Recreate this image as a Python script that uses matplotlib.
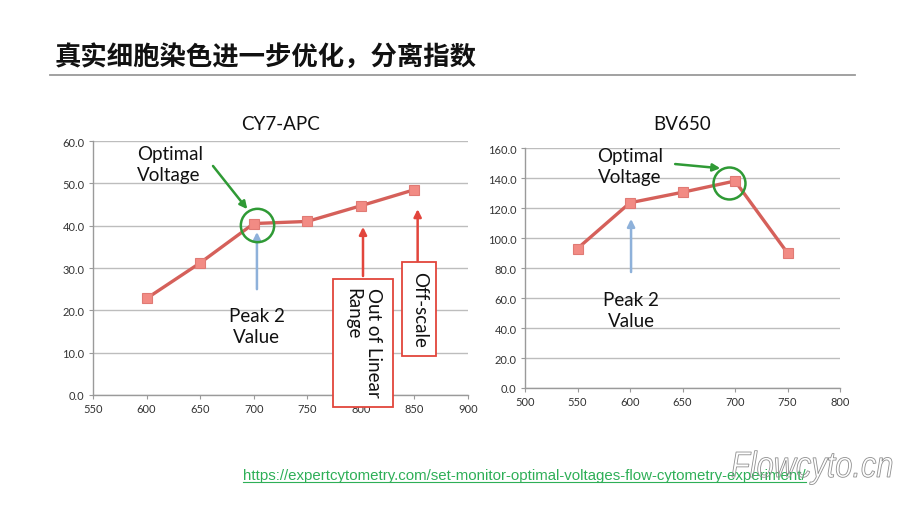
import matplotlib
matplotlib.use("Agg")
import matplotlib.pyplot as plt
from matplotlib.patches import Rectangle, PathPatch
from matplotlib.textpath import TextPath
from matplotlib.font_manager import FontProperties
from matplotlib.transforms import Affine2D, IdentityTransform

# ---- data ----
cy7_voltage = [600, 650, 700, 750, 800, 850]
cy7_values = [22.8, 31.2, 40.5, 41.0, 44.7, 48.5]
bv_voltage = [550, 600, 650, 700, 750]
bv_values = [93.0, 123.5, 130.5, 138.0, 90.0]
cy7_xticks = [550, 600, 650, 700, 750, 800, 850, 900]
cy7_yticks = [0, 10, 20, 30, 40, 50, 60]
bv_xticks = [500, 550, 600, 650, 700, 750, 800]
bv_yticks = [0, 20, 40, 60, 80, 100, 120, 140, 160]
title_text = "真实细胞染色进一步优化，分离指数"
url_text = "https://expertcytometry.com/set-monitor-optimal-voltages-flow-cytometry-experiment/"
watermark_text = "Flowcyto.cn"

LINE_C = "#d5605a"
MARK_F = "#f28b84"
GREEN = "#2f9a35"
BLUE = "#8eb1da"
RED = "#e2453c"
FONT = ["Lato", "DejaVu Sans"]
ANN = 13.5

fig = plt.figure(figsize=(9, 5.06), dpi=100)
fig.patch.set_facecolor("white")

# title + rule
fig.text(55/900, 1-58/506, title_text, fontsize=19, fontweight="bold",
         family=["Noto Sans CJK SC", "DejaVu Sans"], va="center", ha="left", color="#111111")
fig.add_artist(plt.Line2D([50/900, 855/900], [1-76/506, 1-76/506], color="#9a9a9a", lw=1.3))


def style_axes(ax, xticks, yticks):
    ax.set_xlim(xticks[0], xticks[-1])
    ax.set_ylim(yticks[0], yticks[-1])
    ax.set_xticks(xticks)
    ax.set_yticks(yticks)
    ax.set_xticklabels([str(v) for v in xticks])
    ax.set_yticklabels([f"{v:.1f}" for v in yticks])
    for s in ["top", "right"]:
        ax.spines[s].set_visible(False)
    for s in ["left", "bottom"]:
        ax.spines[s].set_color("#9a9a9a")
        ax.spines[s].set_linewidth(1.0)
    ax.grid(axis="y", color="#bdbdbd", lw=1.0)
    ax.set_axisbelow(True)
    ax.tick_params(axis="both", length=3, width=0.8, color="#9a9a9a",
                   labelsize=8, labelcolor="#333333", pad=3)
    for lab in ax.get_xticklabels() + ax.get_yticklabels():
        lab.set_family(FONT)


def series(ax, x, y):
    ax.plot(x, y, color=LINE_C, lw=2.4, marker="s", ms=7.5,
            markerfacecolor=MARK_F, markeredgecolor="#e07a74", markeredgewidth=0.8,
            zorder=3, clip_on=False)


def arrow(ax, start, end, color, lw=1.8):
    ax.annotate("", xy=end, xytext=start,
                arrowprops=dict(arrowstyle="-|>", color=color, lw=lw, mutation_scale=11,
                                shrinkA=0, shrinkB=0), annotation_clip=False)


# ---- left chart ----
ax1 = fig.add_axes([93/900, 1-396/506, 375/900, 254/506])
style_axes(ax1, cy7_xticks, cy7_yticks)
series(ax1, cy7_voltage, cy7_values)
ax1.set_title("CY7-APC", fontsize=13.5, family=FONT, pad=9, color="#111111")
ax1.plot([703], [40.2], marker="o", ms=24, mfc="none", mec=GREEN, mew=1.8, zorder=4, clip_on=False)
arrow(ax1, (662, 54.1), (694, 43.9), GREEN)
ax1.text(591, 59.0, "Optimal\nVoltage", fontsize=ANN, family=FONT, va="top", ha="left",
         linespacing=1.25, color="#111111")
arrow(ax1, (703, 25.0), (703, 38.5), BLUE)
ax1.text(703, 16.3, "Peak 2\nValue", fontsize=ANN, family=FONT, va="center", ha="center",
         linespacing=1.3, color="#111111")
arrow(ax1, (802, 28.1), (802, 39.7), RED)
arrow(ax1, (853, 31.7), (853, 43.9), RED)
ax1.add_patch(Rectangle((774, -2.8), 56, 30.2, facecolor="white", edgecolor=RED, lw=1.3,
                        clip_on=False, zorder=4))
ax1.text(802, 25.5, "Out of Linear\nRange", fontsize=ANN, family=FONT, rotation=270,
         va="top", ha="center", multialignment="left", linespacing=1.3,
         color="#111111", zorder=5, clip_on=False)
ax1.add_patch(Rectangle((838.4, 9.2), 31.7, 22.2, facecolor="white", edgecolor=RED, lw=1.3,
                        clip_on=False, zorder=4))
ax1.text(854.5, 20.3, "Off-scale", fontsize=ANN, family=FONT, rotation=270,
         va="center", ha="center", color="#111111", zorder=5)

# ---- right chart ----
ax2 = fig.add_axes([525/900, 1-389/506, 315/900, 240/506])
style_axes(ax2, bv_xticks, bv_yticks)
series(ax2, bv_voltage, bv_values)
ax2.set_title("BV650", fontsize=13.5, family=FONT, pad=14, color="#111111")
ax2.plot([694], [137], marker="o", ms=23, mfc="none", mec=GREEN, mew=1.8, zorder=4, clip_on=False)
arrow(ax2, (643, 149.3), (686, 146.5), GREEN)
ax2.text(600, 148, "Optimal\nVoltage", fontsize=ANN, family=FONT, va="center", ha="center",
         linespacing=1.25, color="#111111")
arrow(ax2, (601, 77.3), (601, 112.7), BLUE)
ax2.text(601, 52, "Peak 2\nValue", fontsize=ANN, family=FONT, va="center", ha="center",
         linespacing=1.3, color="#111111")

# ---- url ----
url = fig.text(243/900, 1-476/506, url_text, fontsize=10.8, family=["Liberation Sans", "DejaVu Sans"],
               color="#2eaf57", va="center", ha="left")
fig.canvas.draw()
bb = url.get_window_extent(renderer=fig.canvas.get_renderer())
fig.add_artist(plt.Line2D([bb.x0/900, bb.x1/900], [(bb.y0 + 0.5)/506, (bb.y0 + 0.5)/506],
                          color="#2eaf57", lw=0.8))

# ---- watermark (outlined, condensed italic) ----
tp = TextPath((0, 0), watermark_text, size=1.0,
              prop=FontProperties(family="Liberation Sans", style="italic"))
ext = tp.get_extents()
sy = 26 / 0.716
sx = 160 / ext.width
tr = Affine2D().translate(-ext.x0, 0).scale(sx, sy).translate(732, 506 - 478)
fig.add_artist(PathPatch(tp, transform=tr + IdentityTransform(), facecolor="none",
                         edgecolor="#8f8f8f", lw=0.6, zorder=10))

fig.savefig("out.png", dpi=100)
